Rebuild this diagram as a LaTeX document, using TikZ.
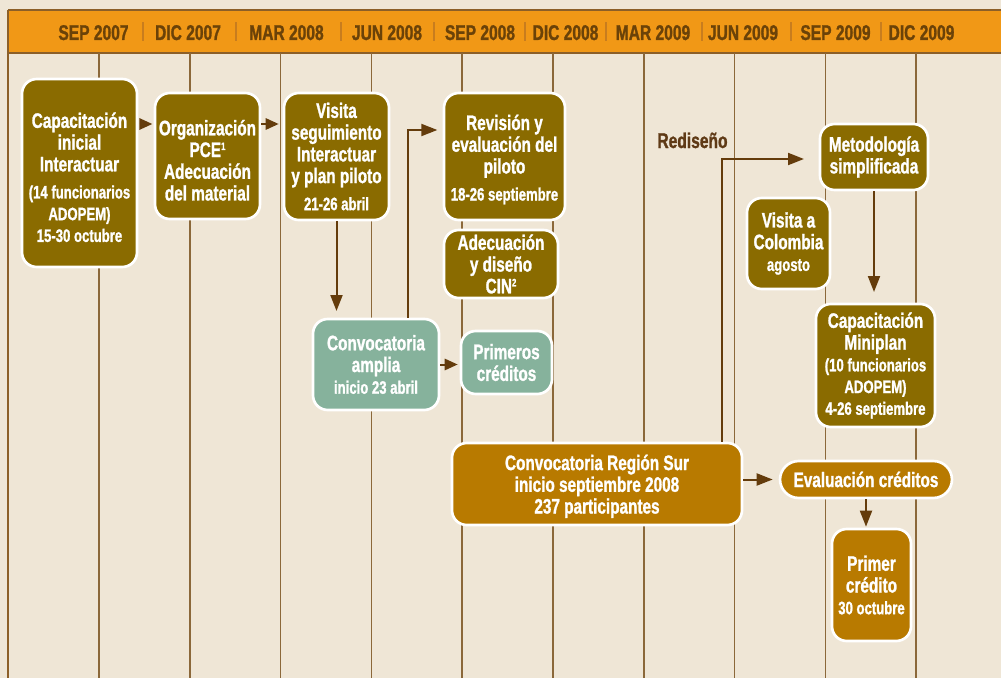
\documentclass[tikz,border=0pt]{standalone}
\usepackage{fontspec}
\setmainfont{Liberation Sans}[FakeStretch=0.73, BoldFeatures={FakeBold=1.2}]
\usetikzlibrary{arrows.meta}

\definecolor{creamback}{rgb}{0.937255, 0.901961, 0.839216}
\definecolor{headorange}{rgb}{0.945098, 0.596078, 0.086275}
\definecolor{headrule}{rgb}{0.549020, 0.372549, 0.156863}
\definecolor{monthtext}{rgb}{0.419608, 0.258824, 0.031373}
\definecolor{monthsep}{rgb}{0.784314, 0.490196, 0.117647}
\definecolor{gridbrown}{rgb}{0.545098, 0.407843, 0.227451}
\definecolor{olivebox}{rgb}{0.541176, 0.419608, 0.000000}
\definecolor{amberbox}{rgb}{0.721569, 0.478431, 0.000000}
\definecolor{tealbox}{rgb}{0.525490, 0.698039, 0.611765}
\definecolor{arrowbrown}{rgb}{0.392157, 0.235294, 0.047059}
\definecolor{rediText}{rgb}{0.372549, 0.227451, 0.086275}

\newlength{\du}
\setlength{\du}{0.75pt}

\newcommand{\bigtxt}{\fontsize{15.75pt}{16.3pt}\selectfont\bfseries}
\newcommand{\smalltxt}{\fontsize{13.5pt}{16.3pt}\selectfont\bfseries}
\newcommand{\headtxt}{\fontsize{16pt}{18pt}\selectfont\bfseries}
\newcommand{\tinysup}[1]{\raisebox{5.3pt}{\fontsize{8pt}{8pt}\selectfont #1}}

\tikzset{
  stepcard/.style={rounded corners=11pt, draw=white, line width=2pt, align=center,
    text=white, inner sep=1pt, font=\bigtxt},
  olivecard/.style={stepcard, fill=olivebox},
  ambercard/.style={stepcard, fill=amberbox},
  tealcard/.style={stepcard, fill=tealbox},
  monthlbl/.style={anchor=base, inner sep=0pt, text=monthtext, font=\headtxt},
  gridline/.style={draw=gridbrown, line width=1.1pt},
  headline/.style={draw=headrule, line width=1.1pt},
  monthbar/.style={draw=monthsep, line width=1.1pt},
  flowarr/.style={draw=arrowbrown, line width=1.5pt, -{Triangle[length=12pt,width=9pt]}},
  shortarr/.style={draw=arrowbrown, line width=1.5pt, -{Triangle[length=9.75pt,width=8.5pt]}}
}

\begin{document}
\begin{tikzpicture}
\pgftransformxscale{1.000000}
\pgftransformyscale{-1.000000}
\useasboundingbox (0\du,0\du) rectangle (1001\du,678\du);
\fill[creamback] (0\du,0\du) rectangle (1001\du,678\du);
% header
\fill[headorange] (8\du,10\du) rectangle (1001\du,53\du);
\draw[headline] (8\du,10\du)--(1001\du,10\du);
\draw[headline] (8\du,53\du)--(1001\du,53\du);
\draw[headline] (8\du,10\du)--(8\du,678\du);
\node[monthlbl] (sep07) at (93.5\du,40\du){SEP 2007};
\node[monthlbl] (dic07) at (188\du,40\du){DIC 2007};
\node[monthlbl] (mar08) at (286.5\du,40\du){MAR 2008};
\node[monthlbl] (jun08) at (387\du,40\du){JUN 2008};
\node[monthlbl] (sep08) at (480\du,40\du){SEP 2008};
\node[monthlbl] (dic08) at (565.5\du,40\du){DIC 2008};
\node[monthlbl] (mar09) at (653\du,40\du){MAR 2009};
\node[monthlbl] (jun09) at (743\du,40\du){JUN 2009};
\node[monthlbl] (sep09) at (835.5\du,40\du){SEP 2009};
\node[monthlbl] (dic09) at (921.5\du,40\du){DIC 2009};
\draw[monthbar] (143\du,22\du)--(143\du,41\du);
\draw[monthbar] (236\du,22\du)--(236\du,41\du);
\draw[monthbar] (341\du,22\du)--(341\du,41\du);
\draw[monthbar] (434\du,22\du)--(434\du,41\du);
\draw[monthbar] (525\du,22\du)--(525\du,41\du);
\draw[monthbar] (606\du,22\du)--(606\du,41\du);
\draw[monthbar] (702\du,22\du)--(702\du,41\du);
\draw[monthbar] (791\du,22\du)--(791\du,41\du);
\draw[monthbar] (881\du,22\du)--(881\du,41\du);
% grid
\draw[gridline] (99\du,53\du)--(99\du,678\du);
\draw[gridline] (189.8\du,53\du)--(189.8\du,678\du);
\draw[gridline] (280.6\du,53\du)--(280.6\du,678\du);
\draw[gridline] (371.4\du,53\du)--(371.4\du,678\du);
\draw[gridline] (462.2\du,53\du)--(462.2\du,678\du);
\draw[gridline] (553\du,53\du)--(553\du,678\du);
\draw[gridline] (643.8\du,53\du)--(643.8\du,678\du);
\draw[gridline] (734.6\du,53\du)--(734.6\du,678\du);
\draw[gridline] (825.4\du,53\du)--(825.4\du,678\du);
\draw[gridline] (916.2\du,53\du)--(916.2\du,678\du);
% boxes
\node[olivecard, minimum width=115\du, minimum height=188\du] (capini) at (79.5\du,173\du){\rule{0pt}{18pt}Capacitación\\inicial\\Interactuar\\[4pt]\smalltxt (14 funcionarios\\\smalltxt ADOPEM)\\\smalltxt 15-30 octubre};
\node[olivecard, minimum width=105\du, minimum height=126\du] (organiza) at (207.5\du,156\du){\rule{0pt}{18pt}Organización\\PCE\tinysup{1}\\Adecuación\\del material};
\node[olivecard, minimum width=105\du, minimum height=127\du] (visita) at (336.5\du,156.5\du){Visita\\seguimiento\\Interactuar\\y plan piloto\\[4pt]\smalltxt 21-26 abril};
\node[olivecard, minimum width=121\du, minimum height=127\du] (revision) at (504.5\du,156.5\du){\rule{0pt}{16pt}Revisión y\\evaluación del\\piloto\\[4pt]\smalltxt 18-26 septiembre};
\node[olivecard, minimum width=114\du, minimum height=68\du] (cin) at (501\du,264\du){Adecuación\\y diseño\\CIN\tinysup{2}};
\node[tealcard, minimum width=126\du, minimum height=91\du] (amplia) at (376\du,364.5\du){Convocatoria\\amplia\\\smalltxt inicio 23 abril};
\node[tealcard, minimum width=91\du, minimum height=63\du] (primeros) at (506.5\du,362.5\du){Primeros\\créditos};
\node[ambercard, minimum width=290\du, minimum height=82\du] (sur) at (597\du,484\du){\rule{0pt}{15pt}Convocatoria Región Sur\\inicio septiembre 2008\\237 participantes};
\node[olivecard, minimum width=108\du, minimum height=66\du] (metodo) at (874\du,157\du){Metodología\\simplificada};
\node[olivecard, minimum width=83\du, minimum height=91\du] (colombia) at (788.5\du,243.5\du){Visita a\\Colombia\\\smalltxt agosto};
\node[olivecard, minimum width=119\du, minimum height=123\du] (miniplan) at (875.5\du,365.5\du){Capacitación\\Miniplan\\\smalltxt (10 funcionarios\\\smalltxt ADOPEM)\\\smalltxt 4-26 septiembre};
\node[ambercard, rounded corners=14pt, minimum width=172\du, minimum height=37\du] (evalua) at (866\du,479.5\du){Evaluación créditos};
\node[ambercard, minimum width=79\du, minimum height=112\du] (primer) at (871.5\du,585\du){Primer\\crédito\\\smalltxt 30 octubre};
\node[anchor=base, inner sep=0pt, text=rediText, font=\headtxt] (redisenio) at (692.5\du,148\du){Rediseño};
% arrows
\coordinate (rowtop) at (0\du,124\du);
\coordinate (rowrev) at (408\du,130\du);
\coordinate (rowredi) at (722\du,159\du);
\draw[shortarr, shorten <=1pt, shorten >=1pt] (capini.east |- rowtop)--(organiza.west |- rowtop);
\draw[shortarr, shorten >=3pt] (organiza.east |- rowtop)--(visita.west |- rowtop);
\draw[flowarr, shorten >=5pt] (visita.south)--(visita.south |- amplia.north);
\draw[flowarr, shorten >=4pt] (amplia.north -| rowrev) |- (revision.west |- rowrev);
\draw[shortarr, shorten >=1.5pt] (amplia.east)--(amplia.east -| primeros.west);
\draw[flowarr, shorten >=11pt] (sur.north -| rowredi) |- (metodo.west |- rowredi);
\draw[flowarr, shorten >=8pt] (metodo.south)--(metodo.south |- miniplan.north);
\draw[flowarr, shorten >=4.5pt] (sur.east |- evalua.west)--(evalua.west);
\draw[flowarr, shorten >=0.75pt] (evalua.south)--(evalua.south |- primer.north);
\end{tikzpicture}
\end{document}
